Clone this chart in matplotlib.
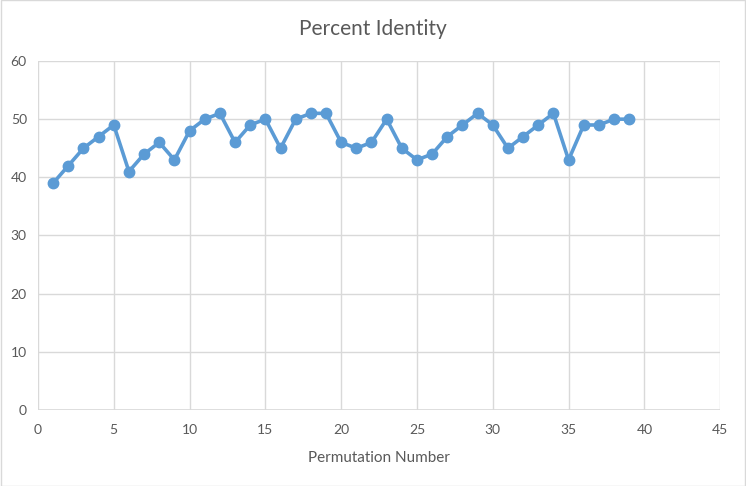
import matplotlib
matplotlib.use("Agg")
import matplotlib.pyplot as plt

# permutation index and percent identity
perm_number = list(range(1, 40))
percent_identity = [39, 42, 45, 47, 49, 41, 44, 46, 43, 48,
                    50, 51, 46, 49, 50, 45, 50, 51, 51, 46,
                    45, 46, 50, 45, 43, 44, 47, 49, 51, 49,
                    45, 47, 49, 51, 43, 49, 49, 50, 50]

x_ticks = list(range(0, 50, 5))
y_ticks = list(range(0, 70, 10))

plt.rcParams['font.family'] = ['Lato', 'DejaVu Sans']
text_col = '#595959'
grid_col = '#D9D9D9'
line_col = '#5B9BD5'

fig = plt.figure(figsize=(7.46, 4.86), dpi=100)
ax = fig.add_axes([0.0509, 0.1564, 0.9145, 0.7181])

ax.plot(perm_number, percent_identity, color=line_col, lw=2.6,
        marker='o', ms=7.5, zorder=3)

ax.set_xlim(0, 45)
ax.set_ylim(0, 60)
ax.set_xticks(x_ticks)
ax.set_yticks(y_ticks)
ax.grid(True, color=grid_col, lw=1)
ax.set_axisbelow(True)
for s in ax.spines.values():
    s.set_visible(False)
ax.axhline(0, color=grid_col, lw=1.2, zorder=1)
ax.tick_params(axis='x', length=0, colors=text_col, labelsize=10, pad=10)
ax.tick_params(axis='y', length=0, colors=text_col, labelsize=10, pad=8)

ax.set_xlabel('Permutation Number', color=text_col, fontsize=11, labelpad=11)
fig.text(0.5, 0.94, 'Percent Identity', ha='center', va='center',
         color=text_col, fontsize=15)

# light border around the chart area
fig.patches.append(plt.Rectangle((0.001, 0.001), 0.998, 0.998, transform=fig.transFigure,
                                 fill=False, edgecolor=grid_col, lw=1))

fig.savefig('out.png', dpi=100)
